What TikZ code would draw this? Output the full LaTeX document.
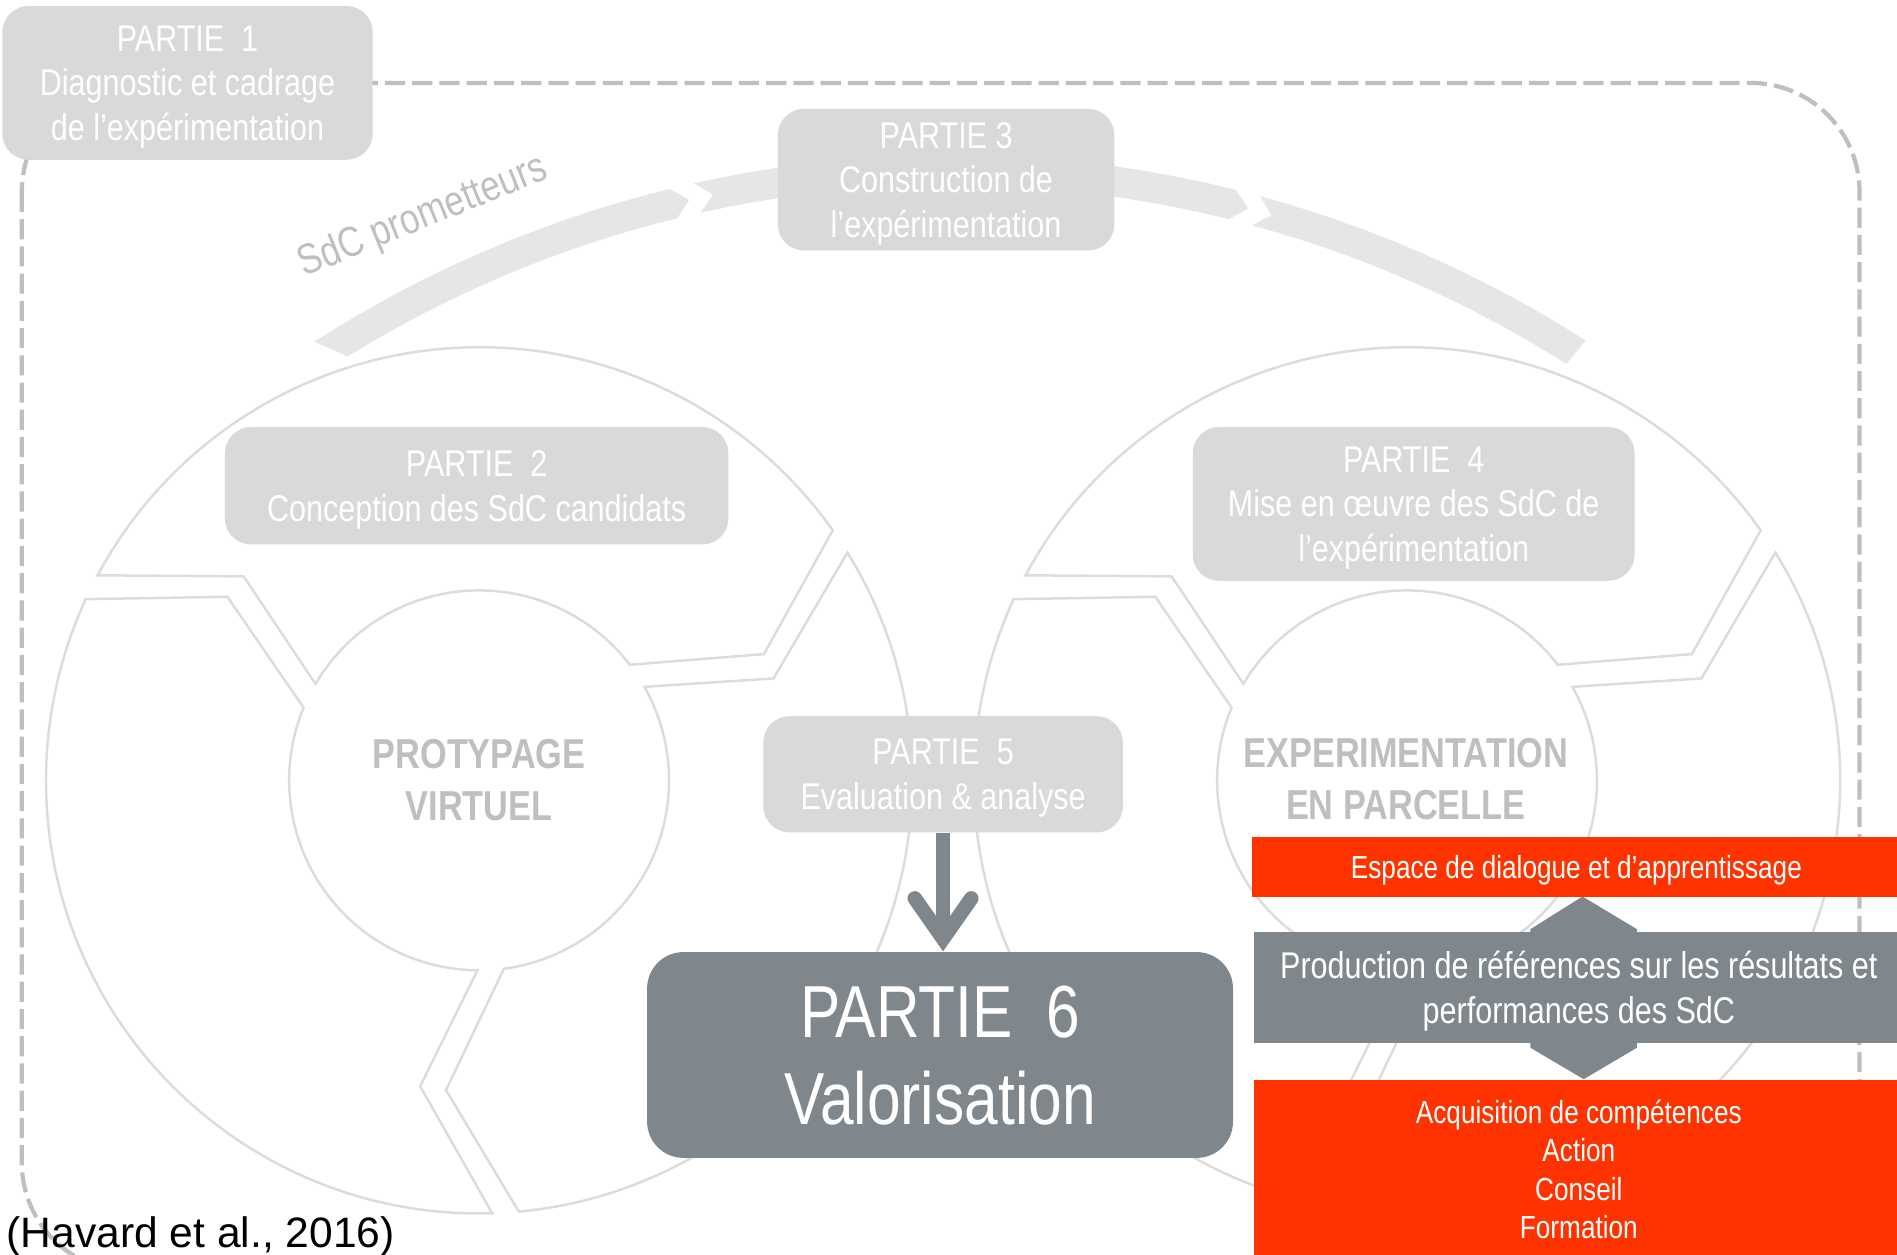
\documentclass[tikz,border=0pt]{standalone}
\usepackage{fontspec}
\setmainfont{Liberation Sans}
\newfontfamily\narrowsf[FakeStretch=0.82]{Liberation Sans}
\usepackage{tikz}
\usetikzlibrary{arrows.meta,positioning}
\definecolor{boxgray}{HTML}{D9D9D9}
\definecolor{bandgray}{HTML}{E6E6E6}
\definecolor{ringline}{HTML}{DCDCDC}
\definecolor{framegray}{HTML}{BFBFBF}
\definecolor{labelgray}{HTML}{BFBFBF}
\definecolor{slate}{HTML}{7F878C}
\definecolor{alert}{HTML}{FF3300}

\begin{document}
\begin{tikzpicture}[
      x=0.012cm, y=0.012cm,
      partbox/.style={fill=boxgray, rounded corners=0.26cm, text=white, align=center,
                      inner sep=0pt, font=\narrowsf\fontsize{10.5}{12.6}\selectfont},
      ringseg/.style={draw=ringline, line width=0.7pt, fill=white},
      band/.style={fill=bandgray},
      cyclelabel/.style={text=labelgray, align=center,
                      font=\narrowsf\bfseries\fontsize{11.8}{14.7}\selectfont},
      redbox/.style={fill=alert, text=white, align=center, inner sep=0pt,
                      minimum width=6.432cm, font=\narrowsf\fontsize{9}{10.8}\selectfont},
      valarrow/.style={draw=slate, line width=0.144cm,
                      -{Straight Barb[length=0.4cm, width=0.56cm, line cap=round, line join=miter]}},
      frame/.style={draw=framegray, line width=1.2pt, dash pattern=on 0.2cm off 0.07cm,
                      rounded corners=1.08cm}
    ]
    \useasboundingbox (0,0) rectangle (1568,-1037);

    \draw[frame] (18,-68.5) rectangle (1537,-1051);

    % curved band over both cycles
    \begin{scope}[shift={(786,-1102)}]
      \fill[band] (122.7:974) arc[start angle=122.7, end angle=103.8, radius=974]
        -- (103:961.5) -- (103.8:949) arc[start angle=103.8, end angle=121.7, radius=949] -- cycle;
      \fill[band] (102.6:974) arc[start angle=102.6, end angle=76, radius=974]
        -- (75.2:961.5) -- (76:949) arc[start angle=76, end angle=102.6, radius=949]
        -- (101.8:961.5) -- cycle;
      \fill[band] (74.8:974) arc[start angle=74.8, end angle=57.4, radius=974]
        -- (57.6:949) arc[start angle=57.6, end angle=74.8, radius=949]
        -- (74:961.5) -- cycle;
    \end{scope}
    \node[rotate=22, anchor=base, inner sep=0pt, text=labelgray,
          font=\narrowsf\fontsize{12}{14}\selectfont] (sdc) at (353,-188) {SdC prometteurs};

    % the two cycles
    \foreach \cx in {396,1163} {
      \begin{scope}[shift={(\cx,-645)}]
        \foreach \a/\b in {273.5/153.5, 153.5/33.5, 33.5/-86.5}
          \draw[ringseg] ({\a-1.76}:358) arc[start angle=\a-1.76, end angle=\b+1.76, radius=358]
            -- ({\b-9.6}:257.5) -- ({\b+4}:157)
            arc[start angle=\b+4, end angle=\a-4, radius=157]
            -- ({\a-14.4}:257.5) -- cycle;
      \end{scope}
    }
    \node[cyclelabel] (proto) at (396,-645) {PROTYPAGE\\VIRTUEL};
    \node[cyclelabel] (exper) at (1162,-644) {EXPERIMENTATION\\EN PARCELLE};

    \node[partbox, minimum width=3.672cm, minimum height=1.524cm, text depth=-2.1pt] (p1) at (155,-68.5)
      {PARTIE\ \ 1\\Diagnostic et cadrage\\de l’expérimentation};
    \node[partbox, minimum width=3.336cm, minimum height=1.404cm, text depth=-0.9pt] (p3) at (782,-148.5)
      {PARTIE 3\\Construction de\\l’expérimentation};
    \node[partbox, minimum width=4.992cm, minimum height=1.164cm, text depth=-1.1pt] (p2) at (394,-401.5)
      {PARTIE\ \ 2\\Conception des SdC candidats};
    \node[partbox, minimum width=4.38cm, minimum height=1.524cm, text depth=-2pt] (p4) at (1168.5,-416.5)
      {PARTIE\ \ 4\\Mise en œuvre des SdC de\\l’expérimentation};
    \node[partbox, minimum width=3.564cm, minimum height=1.152cm, text depth=-2.4pt] (p5) at (779.5,-640)
      {PARTIE\ \ 5\\Evaluation \& analyse};
    \node[partbox, fill=slate, rounded corners=0.36cm, minimum width=5.808cm, minimum height=2.04cm,
          font=\narrowsf\fontsize{20.8}{24.6}\selectfont, text depth=-2.6pt] (p6) at (777,-872)
      {PARTIE\ \ 6\\Valorisation};

    \draw[valarrow] (p5.south) -- (p5.south |- p6.north);

    % results panel on the right
    \fill[slate] (1308,-741) -- (1353,-768) -- (1353,-866) -- (1309,-892)
      -- (1265,-866) -- (1265,-768) -- cycle;
    \node[redbox, minimum height=0.588cm,
          execute at begin node={\rule{0pt}{8.6pt}}] (esp) at (1303,-716.5)
      {Espace de dialogue et d’apprentissage};
    \node[redbox, fill=slate, minimum height=1.104cm,
          font=\narrowsf\fontsize{10.5}{12.6}\selectfont, text depth=-0.2pt] (prod) at (1305,-816)
      {Production de références sur les résultats et\\performances des SdC};
    \node[redbox, minimum height=1.764cm] (acq) at (1305,-966.5)
      {Acquisition de compétences\\Action\\Conseil\\Formation};

    \node[anchor=base west, inner sep=0pt, font=\fontsize{12}{14}\selectfont] (cite) at (5,-1031)
      {(Havard et al., 2016)};
  \end{tikzpicture}
\end{document}
